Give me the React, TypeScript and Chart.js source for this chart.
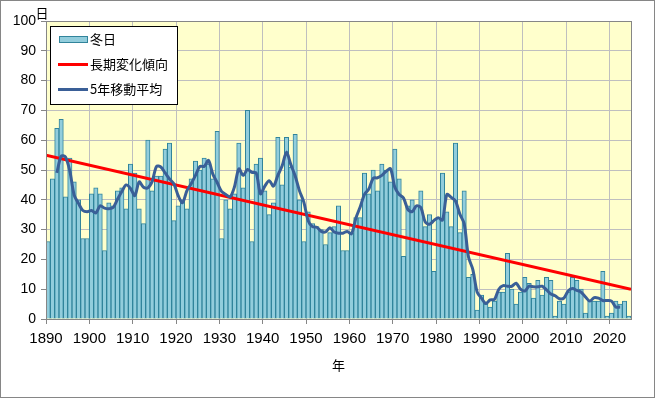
import React, { useEffect, useRef } from 'react';
import { Chart, registerables } from 'chart.js';

Chart.register(...registerables);

// ---- data ----
const FIRST_YEAR = 1890;
const WINTER_DAYS = [
  26, 47, 64, 67, 41, 54, 46, 40, 27, 27,
  42, 44, 42, 23, 39, 38, 43, 44, 37, 52,
  49, 37, 32, 60, 43, 48, 48, 57, 59, 33,
  38, 40, 37, 47, 53, 50, 54, 52, 47, 63,
  27, 40, 37, 42, 59, 44, 70, 26, 52, 54,
  43, 35, 39, 61, 45, 61, 51, 62, 40, 26,
  36, 32, 31, 30, 25, 29, 31, 38, 23, 23,
  29, 34, 34, 49, 42, 50, 43, 52, 50, 46,
  57, 47, 21, 38, 40, 38, 43, 31, 35, 16,
  34, 49, 36, 31, 59, 29, 43, 14, 15, 3,
  8, 5, 4, 6, 9, 9, 22, 10, 5, 9,
  14, 12, 7, 13, 8, 14, 13, 1, 6, 5,
  9, 14, 13, 10, 2, 6, 6, 6, 16, 1,
  2, 6, 5, 6, 1,
];
const TREND_YEARS = [1890, 2025];
const TREND_VALUES = [55, 10];
const MA_WINDOW = 5;
const X_MIN = 1890;
const X_MAX = 2025;
const X_STEP = 10;
const Y_MIN = 0;
const Y_MAX = 100;
const Y_STEP = 10;
const LABEL_BARS = '冬日';
const LABEL_TREND = '長期変化傾向';
const LABEL_MA = '5年移動平均';
const X_TITLE = '年';
const Y_TITLE = '日';

const BAR_FILL = '#92CDDC';
const BAR_EDGE = '#31849B';
const TREND_COLOR = '#FF0000';
const MA_COLOR = '#3A5F97';
const CJK = '"Noto Sans CJK JP", "Noto Sans", sans-serif';

function movingAverage(values: number[], win: number) {
  const half = Math.floor(win / 2);
  const out: { x: number; y: number }[] = [];
  for (let i = half; i < values.length - half; i++) {
    let s = 0;
    for (let j = i - half; j <= i + half; j++) s += values[j];
    out.push({ x: FIRST_YEAR + i + 0.5, y: s / win });
  }
  return out;
}

const decorPlugin = {
  id: 'decor',
  beforeDraw(chart: any) {
    const { ctx, chartArea: a, width, height } = chart;
    ctx.save();
    ctx.fillStyle = '#FFFFFF';
    ctx.fillRect(0, 0, width, height);
    ctx.fillStyle = '#FFFFCC';
    ctx.fillRect(a.left, a.top, a.right - a.left, a.bottom - a.top);
    ctx.restore();
  },
  afterDraw(chart: any) {
    const { ctx, chartArea: a, width, height } = chart;
    ctx.save();
    // plot frame
    ctx.strokeStyle = '#868686';
    ctx.lineWidth = 1;
    ctx.strokeRect(Math.round(a.left) + 0.5, Math.round(a.top) + 0.5, Math.round(a.right - a.left), Math.round(a.bottom - a.top));
    // outer frame
    ctx.strokeStyle = '#868686';
    ctx.strokeRect(0.5, 0.5, width - 1, height - 1);

    // axis titles
    ctx.fillStyle = '#000';
    ctx.font = `13px ${CJK}`;
    ctx.textAlign = 'center';
    ctx.textBaseline = 'middle';
    ctx.fillText(Y_TITLE, 42, 13);
    ctx.fillText(X_TITLE, (a.left + a.right) / 2, 365);

    // legend
    const lx = 50, ly = 26, lw = 127, lh = 78;
    ctx.fillStyle = '#FFFFFF';
    ctx.fillRect(lx, ly, lw, lh);
    ctx.strokeStyle = '#000000';
    ctx.strokeRect(lx + 0.5, ly + 0.5, lw, lh);

    // bar swatch
    ctx.fillStyle = BAR_FILL;
    ctx.fillRect(59, 36, 28, 6);
    ctx.strokeStyle = BAR_EDGE;
    ctx.strokeRect(59.5, 36.5, 28, 6);
    // trend swatch
    ctx.strokeStyle = TREND_COLOR;
    ctx.lineWidth = 3;
    ctx.beginPath();
    ctx.moveTo(58, 64.5);
    ctx.lineTo(88, 64.5);
    ctx.stroke();
    // MA swatch
    ctx.strokeStyle = MA_COLOR;
    ctx.beginPath();
    ctx.moveTo(58, 89.5);
    ctx.lineTo(88, 89.5);
    ctx.stroke();

    ctx.fillStyle = '#000';
    ctx.font = `13px ${CJK}`;
    ctx.textAlign = 'left';
    ctx.textBaseline = 'middle';
    ctx.fillText(LABEL_BARS, 90, 39);
    ctx.fillText(LABEL_TREND, 90, 64);
    ctx.fillText(LABEL_MA, 90, 89);
    ctx.restore();
  },
};

export default function App() {
  const ref = useRef<HTMLCanvasElement | null>(null);

  useEffect(() => {
    if (!ref.current) return;
    const bars = WINTER_DAYS.map((v, i) => ({ x: FIRST_YEAR + i + 0.5, y: v }));
    const trend = TREND_YEARS.map((yr, i) => ({ x: yr, y: TREND_VALUES[i] }));
    const ma = movingAverage(WINTER_DAYS, MA_WINDOW);

    const chart = new Chart(ref.current, {
      type: 'bar',
      data: {
        datasets: [
          {
            type: 'line',
            label: LABEL_MA,
            data: ma,
            borderColor: MA_COLOR,
            borderWidth: 3,
            pointRadius: 0,
            tension: 0.3,
            order: 1,
          } as any,
          {
            type: 'line',
            label: LABEL_TREND,
            data: trend,
            borderColor: TREND_COLOR,
            borderWidth: 3,
            pointRadius: 0,
            order: 2,
          } as any,
          {
            type: 'bar',
            label: LABEL_BARS,
            data: bars,
            backgroundColor: BAR_FILL,
            borderColor: BAR_EDGE,
            borderWidth: 1,
            barPercentage: 1,
            categoryPercentage: 1,
            order: 3,
          } as any,
        ],
      },
      options: {
        responsive: false,
        animation: false,
        devicePixelRatio: 1,
        events: [],
        layout: { padding: { top: 21, right: 24, bottom: 0, left: 0 } },
        plugins: { legend: { display: false }, tooltip: { enabled: false } },
        scales: {
          x: {
            type: 'linear',
            min: X_MIN,
            max: X_MAX,
            offset: false,
            grid: { color: '#BFBFBF', tickLength: 5, tickColor: '#868686', offset: false, drawOnChartArea: true },
            border: { color: '#868686', width: 1 },
            ticks: {
              stepSize: X_STEP,
              includeBounds: false,
              autoSkip: false,
              maxRotation: 0,
              padding: 6,
              color: '#000',
              font: { family: '"Liberation Sans", Arial, sans-serif', size: 15 },
              callback: (v: any) => String(v),
            },
            afterFit: (s: any) => { s.height = 79; },
          },
          y: {
            min: Y_MIN,
            max: Y_MAX,
            grid: { color: '#BFBFBF', tickLength: 5, tickColor: '#868686' },
            border: { color: '#868686', width: 1 },
            ticks: {
              stepSize: Y_STEP,
              padding: 5,
              color: '#000',
              font: { family: '"Liberation Sans", Arial, sans-serif', size: 14 },
            },
            afterFit: (s: any) => { s.width = 46; },
          },
        },
      } as any,
      plugins: [decorPlugin],
    });
    return () => chart.destroy();
  }, []);

  return (
    <div style={{ position: 'absolute', left: 0, top: 0, width: 655, height: 398 }}>
      <canvas ref={ref} width={655} height={398} style={{ display: 'block' }} />
    </div>
  );
}
